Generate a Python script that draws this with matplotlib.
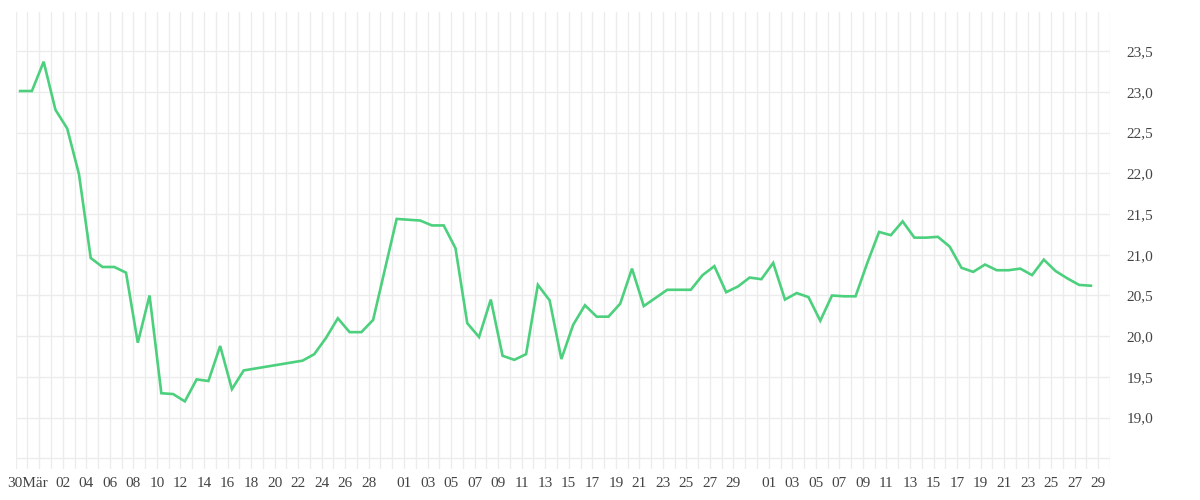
import matplotlib
matplotlib.use("Agg")
import matplotlib.pyplot as plt
import matplotlib.dates as mdates
import pandas as pd

# daily readings, 29.03 - 28.06 (no values for 18.-21.04)
start = "2024-03-29"
end = "2024-06-28"
missing = ["2024-04-18", "2024-04-19", "2024-04-20", "2024-04-21"]
values = [
    23.01, 23.01, 23.37, 22.78, 22.55, 21.99, 20.96, 20.85, 20.85, 20.78,
    19.92, 20.50, 19.30, 19.29, 19.20, 19.47, 19.45, 19.88, 19.35, 19.58,
    19.70, 19.78, 19.98, 20.22, 20.05, 20.05, 20.20, 20.82, 21.44, 21.43,
    21.42, 21.36, 21.36, 21.08, 20.16, 19.99, 20.45, 19.76, 19.71, 19.78,
    20.63, 20.44, 19.72, 20.14, 20.38, 20.24, 20.24, 20.40, 20.83, 20.37,
    20.47, 20.57, 20.57, 20.57, 20.75, 20.86, 20.54, 20.61, 20.72, 20.70,
    20.90, 20.45, 20.53, 20.48, 20.19, 20.50, 20.49, 20.49, 20.90, 21.28,
    21.24, 21.41, 21.21, 21.21, 21.22, 21.10, 20.84, 20.79, 20.88, 20.81,
    20.81, 20.83, 20.75, 20.94, 20.80, 20.71, 20.63, 20.62,
]
y_ticks = [18.5, 19.0, 19.5, 20.0, 20.5, 21.0, 21.5, 22.0, 22.5, 23.0, 23.5]

days = pd.date_range(start, end, freq="D").drop(pd.to_datetime(missing))
dates = days + pd.Timedelta(hours=9)

# labels: first "30Mär", then every 2nd day, restarting each month
tick_dates = [pd.Timestamp("2024-03-30")]
tick_dates += list(pd.date_range("2024-04-02", "2024-04-28", freq="2D"))
tick_dates += list(pd.date_range("2024-05-01", "2024-05-29", freq="2D"))
tick_dates += list(pd.date_range("2024-06-01", "2024-06-29", freq="2D"))
tick_labels = ["30Mär"] + [d.strftime("%d") for d in tick_dates[1:]]

plt.rcParams["font.family"] = ["Liberation Serif", "DejaVu Serif"]

fig = plt.figure(figsize=(12, 5), dpi=100)
ax = fig.add_axes([0.0131, 0.062, 0.9119, 0.914])

ax.plot(dates, values, color="#4cd07d", linewidth=1.9, solid_joinstyle="miter")

ax.set_xlim(pd.Timestamp("2024-03-29"), pd.Timestamp("2024-06-30"))
ax.set_ylim(18.37, 23.98)

ax.xaxis.set_minor_locator(mdates.DayLocator())
ax.set_xticks(tick_dates)
ax.set_xticklabels(tick_labels)
ax.grid(which="minor", axis="x", color="#ececec", linewidth=1)
ax.grid(which="major", axis="x", color="#ececec", linewidth=1)

ax.set_yticks(y_ticks)
ax.set_yticklabels([("" if v == 18.5 else f"{v:.1f}".replace(".", ",")) for v in y_ticks])
ax.grid(which="major", axis="y", color="#ececec", linewidth=1)
ax.yaxis.tick_right()

ax.tick_params(axis="both", which="both", length=0, labelsize=11, labelcolor="#444444")
ax.tick_params(axis="x", pad=6)
ax.tick_params(axis="y", pad=12)
ax.set_axisbelow(True)
for s in ax.spines.values():
    s.set_visible(False)

fig.savefig("out.png", dpi=100)
